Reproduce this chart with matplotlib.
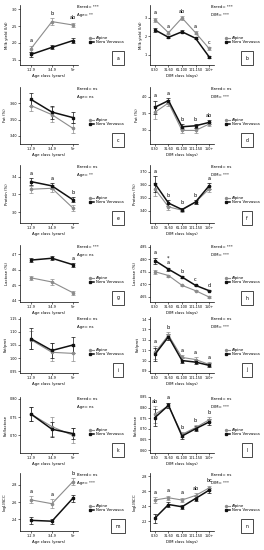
import numpy as np
import matplotlib
matplotlib.use("Agg")
import matplotlib.pyplot as plt
from matplotlib.lines import Line2D

# categories
age_classes = ["1-2.9", "3-4.9", "5+"]
dim_classes = ["0-30", "31-60", "61-100", "101-150", "150+"]

# panel a / b : milk yield
milk_age_alp = [1.83, 2.63, 2.53]
milk_age_nv = [1.66, 1.87, 2.07]
milk_age_alp_se = [0.09, 0.10, 0.07]
milk_age_nv_se = [0.06, 0.06, 0.07]
milk_dim_alp = [2.90, 2.20, 3.00, 2.20, 1.35]
milk_dim_nv = [2.35, 1.95, 2.25, 1.90, 0.90]
milk_dim_alp_se = [0.12, 0.08, 0.10, 0.08, 0.08]
milk_dim_nv_se = [0.12, 0.06, 0.07, 0.06, 0.05]

# panel c / d : fat
fat_age_alp = [3.586, 3.530, 3.446]
fat_age_nv = [3.624, 3.546, 3.512]
fat_age_alp_se = [0.035, 0.045, 0.03]
fat_age_nv_se = [0.04, 0.04, 0.035]
fat_dim_alp = [3.53, 3.81, 2.98, 2.98, 3.17]
fat_dim_nv = [3.68, 3.88, 3.09, 3.12, 3.22]
fat_dim_alp_se = [0.2, 0.08, 0.08, 0.07, 0.07]
fat_dim_nv_se = [0.2, 0.08, 0.07, 0.06, 0.06]

# panel e / f : protein
prot_age_alp = [3.257, 3.268, 3.045]
prot_age_nv = [3.343, 3.295, 3.138]
prot_age_alp_se = [0.04, 0.04, 0.03]
prot_age_nv_se = [0.04, 0.03, 0.03]
prot_dim_alp = [3.566, 3.430, 3.405, 3.467, 3.566]
prot_dim_nv = [3.607, 3.459, 3.410, 3.467, 3.590]
prot_dim_alp_se = [0.05, 0.02, 0.015, 0.015, 0.02]
prot_dim_nv_se = [0.06, 0.02, 0.015, 0.015, 0.02]

# panel g / h : lactose
lact_age_alp = [4.547, 4.520, 4.450]
lact_age_nv = [4.662, 4.674, 4.632]
lact_age_alp_se = [0.015, 0.02, 0.012]
lact_age_nv_se = [0.015, 0.012, 0.012]
lact_dim_alp = [4.750, 4.735, 4.696, 4.675, 4.650]
lact_dim_nv = [4.794, 4.760, 4.729, 4.696, 4.675]
lact_dim_alp_se = [0.008, 0.004, 0.003, 0.003, 0.003]
lact_dim_nv_se = [0.012, 0.006, 0.004, 0.003, 0.003]

# panel i / j : fat / protein
fp_age_alp = [1.070, 1.022, 1.018]
fp_age_nv = [1.074, 1.029, 1.050]
fp_age_alp_se = [0.035, 0.035, 0.03]
fp_age_nv_se = [0.04, 0.03, 0.03]
fp_dim_alp = [1.078, 1.245, 1.030, 1.010, 0.963]
fp_dim_nv = [1.060, 1.230, 1.000, 0.985, 0.954]
fp_dim_alp_se = [0.06, 0.03, 0.025, 0.02, 0.02]
fp_dim_nv_se = [0.06, 0.03, 0.025, 0.02, 0.02]

# panel k / l : fat / lactose
fl_age_alp = [0.7585, 0.724, 0.700]
fl_age_nv = [0.7585, 0.717, 0.705]
fl_age_alp_se = [0.02, 0.025, 0.02]
fl_age_nv_se = [0.02, 0.02, 0.015]
fl_dim_alp = [0.7685, 0.808, 0.674, 0.7055, 0.742]
fl_dim_nv = [0.753, 0.811, 0.666, 0.700, 0.732]
fl_dim_alp_se = [0.04, 0.012, 0.012, 0.012, 0.012]
fl_dim_nv_se = [0.04, 0.012, 0.012, 0.012, 0.012]

# panel m / n : log10 SCC
scc_age_alp = [2.625, 2.580, 2.840]
scc_age_nv = [2.385, 2.375, 2.645]
scc_age_alp_se = [0.04, 0.05, 0.04]
scc_age_nv_se = [0.04, 0.03, 0.04]
scc_dim_alp = [2.48, 2.51, 2.48, 2.54, 2.64]
scc_dim_nv = [2.24, 2.42, 2.39, 2.50, 2.61]
scc_dim_alp_se = [0.04, 0.03, 0.03, 0.03, 0.03]
scc_dim_nv_se = [0.06, 0.03, 0.03, 0.03, 0.03]

ylabels = ["Milk yield (l/d)", "Fat (%)", "Protein (%)", "Lactose (%)",
           "Fat/prot", "Fat/lactose", "log$_{10}$SCC"]
breed_sig = ["***", "***", "ns", "ns", "ns", "ns", "***", "***", "ns", "ns", "ns", "ns", "ns", "ns"]
factor_sig = ["**", "***", "ns", "***", "**", "***", "ns", "***", "ns", "***", "ns", "***", "***", "***"]
panel_letters = list("abcdefghijklmn")
sig_letters = [
    ["a", "b", "ab"], ["a", "a", "ab", "a", "c"],
    ["", "", ""], ["a", "a", "b", "b", "ab"],
    ["a", "a", "b"], ["a", "b", "b", "b", "a"],
    ["", "", "a"], ["a", "*\na", "b", "c", "d"],
    ["", "", ""], ["a", "b", "a", "a", "a"],
    ["", "", ""], ["ab", "a", "b", "b", "b"],
    ["a", "a", "b"], ["a", "a", "a", "ab", "bc"],
]

series = [
    (milk_age_alp, milk_age_alp_se, milk_age_nv, milk_age_nv_se),
    (milk_dim_alp, milk_dim_alp_se, milk_dim_nv, milk_dim_nv_se),
    (fat_age_alp, fat_age_alp_se, fat_age_nv, fat_age_nv_se),
    (fat_dim_alp, fat_dim_alp_se, fat_dim_nv, fat_dim_nv_se),
    (prot_age_alp, prot_age_alp_se, prot_age_nv, prot_age_nv_se),
    (prot_dim_alp, prot_dim_alp_se, prot_dim_nv, prot_dim_nv_se),
    (lact_age_alp, lact_age_alp_se, lact_age_nv, lact_age_nv_se),
    (lact_dim_alp, lact_dim_alp_se, lact_dim_nv, lact_dim_nv_se),
    (fp_age_alp, fp_age_alp_se, fp_age_nv, fp_age_nv_se),
    (fp_dim_alp, fp_dim_alp_se, fp_dim_nv, fp_dim_nv_se),
    (fl_age_alp, fl_age_alp_se, fl_age_nv, fl_age_nv_se),
    (fl_dim_alp, fl_dim_alp_se, fl_dim_nv, fl_dim_nv_se),
    (scc_age_alp, scc_age_alp_se, scc_age_nv, scc_age_nv_se),
    (scc_dim_alp, scc_dim_alp_se, scc_dim_nv, scc_dim_nv_se),
]

yticks = [
    [1.5, 2.0, 2.5, 3.0], [1, 2, 3],
    [3.40, 3.50, 3.60], [3.0, 3.5, 4.0],
    [3.0, 3.2, 3.4], [3.40, 3.50, 3.60, 3.70],
    [4.4, 4.5, 4.6, 4.7], [4.65, 4.70, 4.75, 4.80, 4.85],
    [0.95, 1.00, 1.05, 1.10, 1.15], [0.9, 1.0, 1.1, 1.2, 1.3, 1.4],
    [0.70, 0.75, 0.80], [0.60, 0.65, 0.70, 0.75, 0.80, 0.85],
    [2.4, 2.6, 2.8], [2.2, 2.4, 2.6, 2.8],
]
ylims = [
    (1.35, 3.12), (0.45, 3.7),
    (3.35, 3.70), (2.57, 4.29),
    (2.877, 3.53), (3.307, 3.75),
    (4.39, 4.76), (4.63, 4.856),
    (0.943, 1.157), (0.88, 1.42),
    (0.652, 0.805), (0.586, 0.85),
    (2.26, 2.94), (2.067, 2.84),
]
tickfmt = ["%.1f", "%d", "%.2f", "%.1f", "%.1f", "%.2f", "%.1f", "%.2f",
           "%.2f", "%.1f", "%.2f", "%.2f", "%.1f", "%.1f"]

W, H = 264, 550
fig = plt.figure(figsize=(W / 100, H / 100), dpi=100)
plt.rcParams['font.family'] = ['DejaVu Sans']
fs = 2.8

rows = [(5, 65), (87, 144), (165, 223), (245, 302), (317, 373), (397, 453), (473, 531)]
cols = [(20, 78), (150, 214)]
note_x = [77, 211]

alp_color = "#8c8c8c"
nv_color = "#111111"

for k in range(14):
    r, c = divmod(k, 2)
    top, bot = rows[r]
    x0, x1 = cols[c]
    ax = fig.add_axes([x0 / W, 1 - bot / H, (x1 - x0) / W, (bot - top) / H])
    cats = age_classes if c == 0 else dim_classes
    x = np.arange(len(cats))
    alp, alp_se, nv, nv_se = series[k]
    ax.errorbar(x, alp, yerr=alp_se, color=alp_color, lw=0.8, marker="o", ms=1.6,
                capsize=1.2, elinewidth=0.5, capthick=0.5)
    ax.errorbar(x, nv, yerr=nv_se, color=nv_color, lw=1.1, marker="s", ms=1.6,
                capsize=1.2, elinewidth=0.5, capthick=0.5)
    ax.set_ylim(*ylims[k])
    if c == 0:
        ax.set_xlim(-0.52, 2.24)
    else:
        ax.set_xlim(-0.37, 4.37)
    ax.set_xticks(x)
    ax.set_xticklabels(cats, fontsize=fs - 0.4)
    ax.set_yticks(yticks[k])
    ax.set_yticklabels([tickfmt[k] % v for v in yticks[k]], fontsize=fs - 0.4)
    ax.tick_params(length=1.2, width=0.4, pad=1)
    for s in ["top", "right"]:
        ax.spines[s].set_visible(False)
    for s in ["left", "bottom"]:
        ax.spines[s].set_linewidth(0.5)
    ax.set_xlabel("Age class (years)" if c == 0 else "DIM class (days)", fontsize=fs, labelpad=1.5)
    ax.set_ylabel(ylabels[r], fontsize=fs, labelpad=1.5)

    # significance letters above the highest error bar
    span = ylims[k][1] - ylims[k][0]
    for i, lab in enumerate(sig_letters[k]):
        if lab:
            ytop = max(alp[i] + alp_se[i], nv[i] + nv_se[i])
            ax.text(x[i], ytop + 0.04 * span, lab, fontsize=fs + 0.8, ha="center", va="bottom",
                    linespacing=0.9)

    # annotations at the right side of each panel
    tx = note_x[c] / W
    fig.text(tx, 1 - (top + 2) / H, "Breed= " + breed_sig[k], fontsize=fs, va="center")
    fig.text(tx, 1 - (top + 10) / H, ("Age= " if c == 0 else "DIM= ") + factor_sig[k],
             fontsize=fs, va="center")
    lx = x1 + 14
    ly1 = top + 33
    ly2 = top + 37
    fig.add_artist(Line2D([(lx - 2) / W, (lx + 2) / W], [1 - ly1 / H] * 2, color=alp_color,
                          lw=0.8, marker="o", ms=1.4, markevery=[0]))
    fig.add_artist(Line2D([(lx - 2) / W, (lx + 2) / W], [1 - ly2 / H] * 2, color=nv_color,
                          lw=1.1, marker="s", ms=1.4, markevery=[0]))
    fig.text((lx + 4) / W, 1 - ly1 / H, "Alpine", fontsize=fs, va="center")
    fig.text((lx + 4) / W, 1 - ly2 / H, "Nera Verzasca", fontsize=fs, va="center")
    bx = 118 + c * 129
    fig.text(bx / W, 1 - (top + 53) / H, panel_letters[k], fontsize=fs + 0.5, ha="center",
             va="center", bbox=dict(boxstyle="square,pad=1.0", fc="white", ec="black", lw=0.5))

fig.savefig("out.png", dpi=100)
